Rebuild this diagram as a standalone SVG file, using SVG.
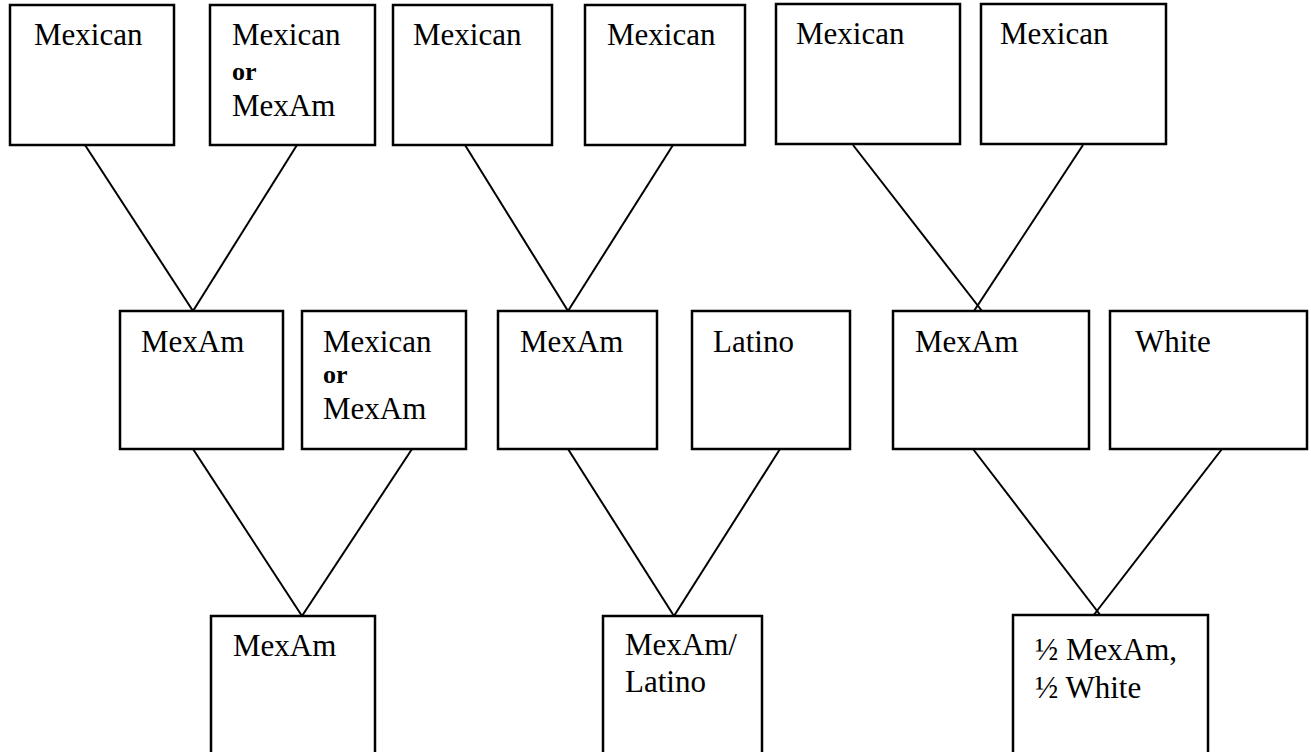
<svg xmlns="http://www.w3.org/2000/svg" width="1311" height="752" viewBox="0 0 1311 752">
<style>
.box{fill:#fff;stroke:#000;stroke-width:2.5}
.lbl{font-family:"Liberation Serif","Times New Roman",serif;font-size:31px;fill:#000}
.or{font-size:26px;font-weight:bold}
.con line{stroke:#000;stroke-width:2}
</style>
<rect width="1311" height="752" fill="#fff"/>
<g id="connectors" class="con">
<line x1="85" y1="145" x2="193" y2="311"/>
<line x1="297" y1="145" x2="193" y2="311"/>
<line x1="465" y1="145" x2="568" y2="311"/>
<line x1="673" y1="145" x2="568" y2="311"/>
<line x1="853" y1="145" x2="982" y2="311"/>
<line x1="1083" y1="145" x2="974" y2="311"/>
<line x1="193" y1="449" x2="302" y2="616"/>
<line x1="412" y1="449" x2="302" y2="616"/>
<line x1="568" y1="449" x2="674" y2="616"/>
<line x1="780" y1="449" x2="674" y2="616"/>
<line x1="973" y1="449" x2="1101" y2="616"/>
<line x1="1222" y1="449" x2="1093" y2="616"/>
</g>
<g id="t1"><rect class="box" x="10" y="5" width="164" height="140"/><text class="lbl" x="34" y="45">Mexican</text></g>
<g id="t2"><rect class="box" x="210" y="5" width="165" height="140"/><text class="lbl" x="232" y="45">Mexican</text><text class="lbl or" x="232" y="80">or</text><text class="lbl" x="232" y="116">MexAm</text></g>
<g id="t3"><rect class="box" x="393" y="5" width="159" height="140"/><text class="lbl" x="413" y="45">Mexican</text></g>
<g id="t4"><rect class="box" x="585" y="5" width="160" height="140"/><text class="lbl" x="607" y="45">Mexican</text></g>
<g id="t5"><rect class="box" x="776" y="4" width="184" height="140"/><text class="lbl" x="796" y="44">Mexican</text></g>
<g id="t6"><rect class="box" x="981" y="4" width="185" height="140"/><text class="lbl" x="1000" y="44">Mexican</text></g>
<g id="m1"><rect class="box" x="120" y="311" width="163" height="138"/><text class="lbl" x="141" y="352">MexAm</text></g>
<g id="m2"><rect class="box" x="302" y="311" width="164" height="138"/><text class="lbl" x="323" y="352">Mexican</text><text class="lbl or" x="323" y="383">or</text><text class="lbl" x="323" y="419">MexAm</text></g>
<g id="m3"><rect class="box" x="498" y="311" width="159" height="138"/><text class="lbl" x="520" y="352">MexAm</text></g>
<g id="m4"><rect class="box" x="692" y="311" width="158" height="138"/><text class="lbl" x="713" y="352">Latino</text></g>
<g id="m5"><rect class="box" x="893" y="311" width="196" height="138"/><text class="lbl" x="915" y="352">MexAm</text></g>
<g id="m6"><rect class="box" x="1110" y="311" width="197" height="138"/><text class="lbl" x="1135" y="352">White</text></g>
<g id="b1"><rect class="box" x="211" y="616" width="164" height="150"/><text class="lbl" x="233" y="656">MexAm</text></g>
<g id="b2"><rect class="box" x="603" y="616" width="159" height="150"/><text class="lbl" x="625" y="655">MexAm/</text><text class="lbl" x="625" y="692">Latino</text></g>
<g id="b3"><rect class="box" x="1013" y="615" width="195" height="150"/><text class="lbl" x="1035" y="660">½ MexAm,</text><text class="lbl" x="1035" y="698">½ White</text></g>
</svg>
